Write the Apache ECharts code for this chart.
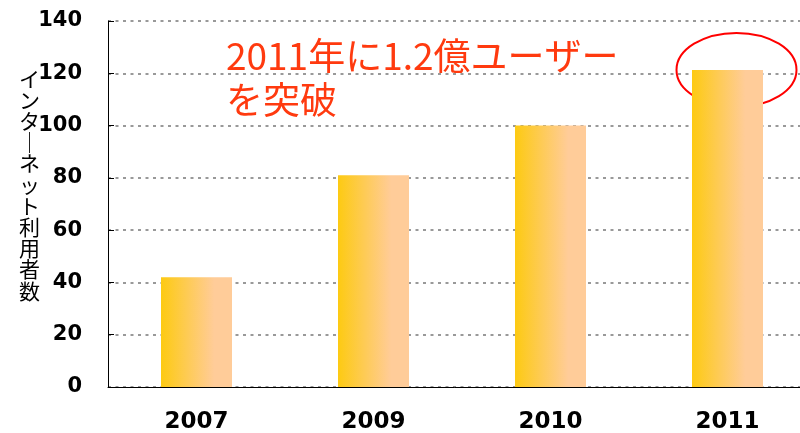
<!DOCTYPE html>
<html>
<head>
<meta charset="utf-8">
<script src="https://cdn.jsdelivr.net/npm/echarts@6/dist/echarts.min.js"></script>
<style>
  html, body { margin: 0; padding: 0; background: #fff; }
  #main { width: 800px; height: 433px; }
</style>
</head>
<body>
<div id="main"></div>
<script>
var years = ['2007', '2009', '2010', '2011'];
var users = [42, 81, 100, 121.3];
var yAxisTitle = 'インターネット利用者数';
var note = '2011年に1.2億ユーザー\nを突破';

var chartDom = document.getElementById('main');
var myChart = echarts.init(chartDom);
var option;

// vertical writing: one char per line, long vowel mark turned upright
var verticalTitle = yAxisTitle.split('').map(function (c) {
  return c === 'ー' ? '｜' : c;
}).join('\n');

option = {
  animation: false,
  grid: {
    left: 108,
    top: 21,
    width: 708,
    bottom: 46,
    outerBoundsMode: 'none'
  },
  xAxis: {
    type: 'category',
    data: years,
    axisLine: { lineStyle: { color: '#000', width: 1 } },
    axisTick: { inside: true, length: 9, lineStyle: { color: '#000' } },
    axisLabel: {
      margin: 24,
      color: '#000',
      fontSize: 23,
      fontWeight: 'bold',
      fontFamily: 'DejaVu Sans'
    }
  },
  yAxis: {
    type: 'value',
    min: 0,
    max: 140,
    interval: 20,
    axisLine: { show: true, lineStyle: { color: '#000', width: 1 } },
    axisTick: { show: true, inside: true, length: 6, lineStyle: { color: '#000' } },
    axisLabel: {
      margin: 26,
      color: '#000',
      fontSize: 21,
      fontWeight: 'bold',
      fontFamily: 'DejaVu Sans'
    },
    splitLine: {
      lineStyle: {
        color: '#999',
        width: 2,
        type: [3, 4.5]
      }
    }
  },
  series: [
    {
      type: 'bar',
      data: users,
      barWidth: 71,
      itemStyle: {
        color: new echarts.graphic.LinearGradient(0, 0, 1, 0, [
          { offset: 0, color: '#fdca12' },
          { offset: 0.75, color: '#ffcc99' },
          { offset: 1, color: '#ffcc99' }
        ])
      }
    }
  ],
  graphic: [
    {
      id: 'ytitle',
      type: 'text',
      left: 19,
      top: 68,
      style: {
        text: verticalTitle,
        fill: '#000',
        fontSize: 21,
        fontWeight: 'normal',
        fontFamily: 'Noto Sans CJK JP',
        lineHeight: 21.2,
        align: 'center'
      }
    },
    {
      id: 'note',
      type: 'text',
      left: 226,
      top: 34,
      style: {
        text: note,
        fill: '#ff3a0f',
        fontSize: 37,
        fontFamily: 'Noto Sans CJK JP',
        lineHeight: 44
      }
    }
  ]
};

option && myChart.setOption(option);

// red ellipse around the top of the last bar
var p = myChart.convertToPixel({ xAxisIndex: 0, yAxisIndex: 0 }, [years[3], users[3]]);
myChart.setOption({
  graphic: [
    {
      id: 'ring',
      type: 'ellipse',
      shape: { cx: p[0] + 9, cy: p[1], rx: 60, ry: 37 },
      style: { fill: 'none', stroke: '#ff0000', lineWidth: 2 }
    }
  ]
});
</script>
</body>
</html>
